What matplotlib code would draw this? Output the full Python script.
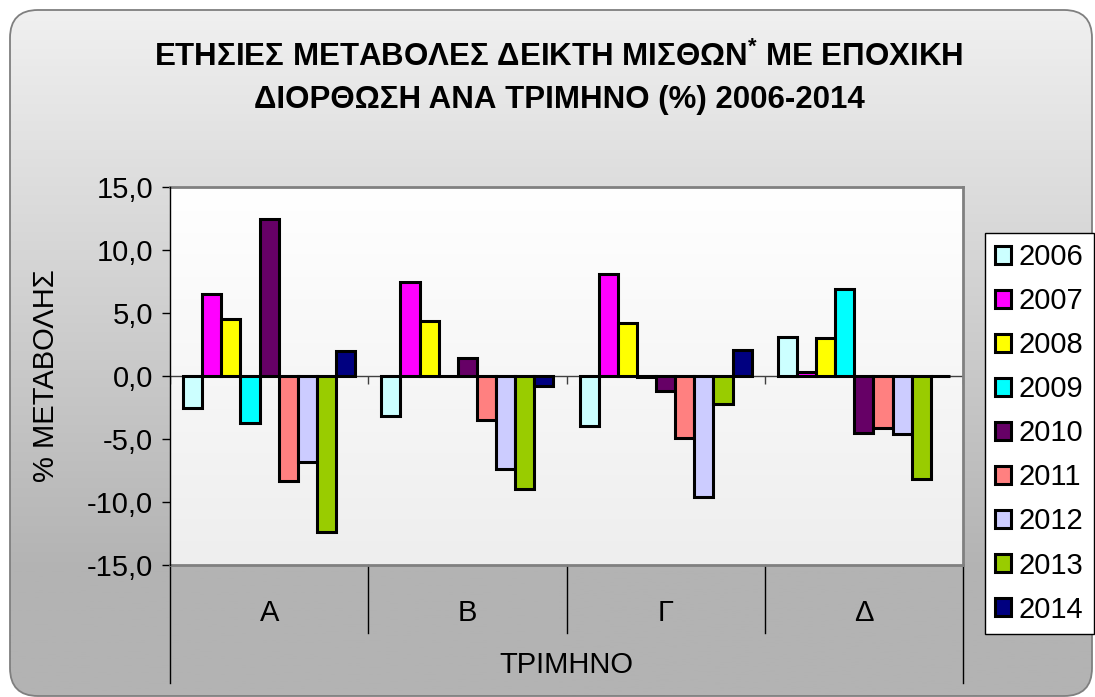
import numpy as np
import matplotlib
matplotlib.use("Agg")
import matplotlib.pyplot as plt
from matplotlib.patches import FancyBboxPatch
from matplotlib.colors import LinearSegmentedColormap
import matplotlib.transforms as mtransforms

plt.rcParams['font.family'] = ['Liberation Sans', 'DejaVu Sans']
plt.rcParams['mathtext.fontset'] = 'custom'
plt.rcParams['mathtext.rm'] = 'Liberation Sans'
plt.rcParams['mathtext.bf'] = 'Liberation Sans:bold'

# ---------------- data ----------------
quarters = ["Α", "Β", "Γ", "Δ"]
years = ["2006", "2007", "2008", "2009", "2010", "2011", "2012", "2013", "2014"]
v2006 = [-2.5, -3.2, -4.0, 3.1]
v2007 = [6.5, 7.5, 8.1, 0.3]
v2008 = [4.5, 4.4, 4.2, 3.0]
v2009 = [-3.7, 0.0, -0.1, 6.9]
v2010 = [12.5, 1.4, -1.2, -4.5]
v2011 = [-8.3, -3.5, -4.9, -4.1]
v2012 = [-6.8, -7.4, -9.6, -4.6]
v2013 = [-12.4, -9.0, -2.2, -8.2]
v2014 = [2.0, -0.8, 2.1, 0.0]
series = [v2006, v2007, v2008, v2009, v2010, v2011, v2012, v2013, v2014]
colors = ["#CCFFFF", "#FF00FF", "#FFFF00", "#00FFFF", "#660066",
          "#FF8080", "#CCCCFF", "#99CC00", "#000080"]
yticks = [-15, -10, -5, 0, 5, 10, 15]
title1 = "ΕΤΗΣΙΕΣ ΜΕΤΑΒΟΛΕΣ ΔΕΙΚΤΗ ΜΙΣΘΩΝ$^{\\mathbf{*}}$ ΜΕ ΕΠΟΧΙΚΗ"
title2 = "ΔΙΟΡΘΩΣΗ ΑΝΑ ΤΡΙΜΗΝΟ (%) 2006-2014"
ylabel = "% ΜΕΤΑΒΟΛΗΣ"
xlabel = "ΤΡΙΜΗΝΟ"

W, H = 1095, 697
fig = plt.figure(figsize=(W / 100, H / 100), dpi=100)
fig.patch.set_facecolor("white")

# ---------------- background rounded panel ----------------
bg = fig.add_axes([0, 0, 1, 1], zorder=-10)
bg.set_xlim(0, W)
bg.set_ylim(H, 0)
bg.axis("off")
panel = FancyBboxPatch((10, 10), 1082, 686, boxstyle="round,pad=0,rounding_size=28",
                       facecolor="none", edgecolor="#7f7f7f", linewidth=1.3, zorder=3)
bg.add_patch(panel)
grad_cmap = LinearSegmentedColormap.from_list("g", ["#f0f0f0", "#b3b3b3"])
gy = np.linspace(0, 1, 300)
gy = np.clip(gy / 0.82, 0, 1)
im = bg.imshow(gy[:, None], cmap=grad_cmap, aspect="auto",
               extent=(10, 1092, 696, 10), zorder=1, vmin=0, vmax=1)
clip = FancyBboxPatch((10, 10), 1082, 686, boxstyle="round,pad=0,rounding_size=28",
                      transform=bg.transData, facecolor="none", edgecolor="none")
bg.add_patch(clip)
im.set_clip_path(clip)

# ---------------- main axes ----------------
left, right, top, bottom = 170, 963, 187, 565
ax = fig.add_axes([left / W, 1 - bottom / H, (right - left) / W, (bottom - top) / H])

pa_cmap = LinearSegmentedColormap.from_list("p", ["#ffffff", "#eeeeee"])
ax.imshow(np.linspace(0, 1, 200)[:, None], cmap=pa_cmap, aspect="auto",
          extent=(-0.5, len(quarters) - 0.5, yticks[0], yticks[-1]), zorder=0,
          origin="upper")
ax.set_xlim(-0.5, len(quarters) - 0.5)
ax.set_ylim(yticks[0], yticks[-1])

x = np.arange(len(quarters))
bw = 0.0965
n = len(series)
handles = []
for i, (vals, c, yr) in enumerate(zip(series, colors, years)):
    b = ax.bar(x + (i - (n - 1) / 2) * bw, vals, width=bw, color=c,
               edgecolor="black", linewidth=2.2, zorder=3, label=yr)
    handles.append(b)

ax.axhline(0, color="#404040", linewidth=1.0, zorder=2)
bounds = np.arange(len(quarters) + 1) - 0.5
ax.vlines(bounds, -0.6, 0, color="#404040", linewidth=1.0, zorder=2)

for s in ["top", "right", "bottom"]:
    ax.spines[s].set_color("#808080")
    ax.spines[s].set_linewidth(2)
ax.spines["left"].set_color("black")
ax.spines["left"].set_linewidth(1)
ax.spines["left"].set_zorder(5)

ax.set_yticks(yticks)
ax.set_yticklabels([f"{t:.1f}".replace(".", ",") for t in yticks])
ax.tick_params(axis="y", direction="out", length=6, width=1, colors="black",
               labelsize=21, pad=6)
ax.set_xticks([])

# multi-level category axis
trans = mtransforms.blended_transform_factory(ax.transData, ax.transAxes)
for bx in bounds:
    outer = (bx == bounds[0]) or (bx == bounds[-1])
    ax.plot([bx, bx], [0, -0.312 if outer else -0.18], transform=trans,
            color="black", linewidth=1.0, clip_on=False)
for xi, q in zip(x, quarters):
    ax.text(xi, -0.127, q, transform=trans, ha="center", va="center", fontsize=21)
ax.text(np.mean(x), -0.265, xlabel, transform=trans, ha="center", va="center",
        fontsize=21)

ax.set_ylabel(ylabel, fontsize=21)
ax.yaxis.set_label_coords(-(170 - 60) / (right - left), 0.5)

# title
fig.text(559 / W, 1 - 57 / H, title1, ha="center", va="center", fontsize=22.5,
         fontweight="bold")
fig.text(559 / W, 1 - 100 / H, title2, ha="center", va="center", fontsize=22.5,
         fontweight="bold")

# legend
leg = fig.legend(handles=handles, labels=years, loc="upper left",
                 bbox_to_anchor=(985 / W, 1 - 233 / H), borderaxespad=0,
                 fontsize=21, frameon=True, fancybox=False, framealpha=1,
                 edgecolor="black", handlelength=0.55, handleheight=0.55,
                 handletextpad=0.25, labelspacing=0.55, borderpad=0.35)
leg.get_frame().set_linewidth(1.0)

fig.savefig("out.png", dpi=100)
